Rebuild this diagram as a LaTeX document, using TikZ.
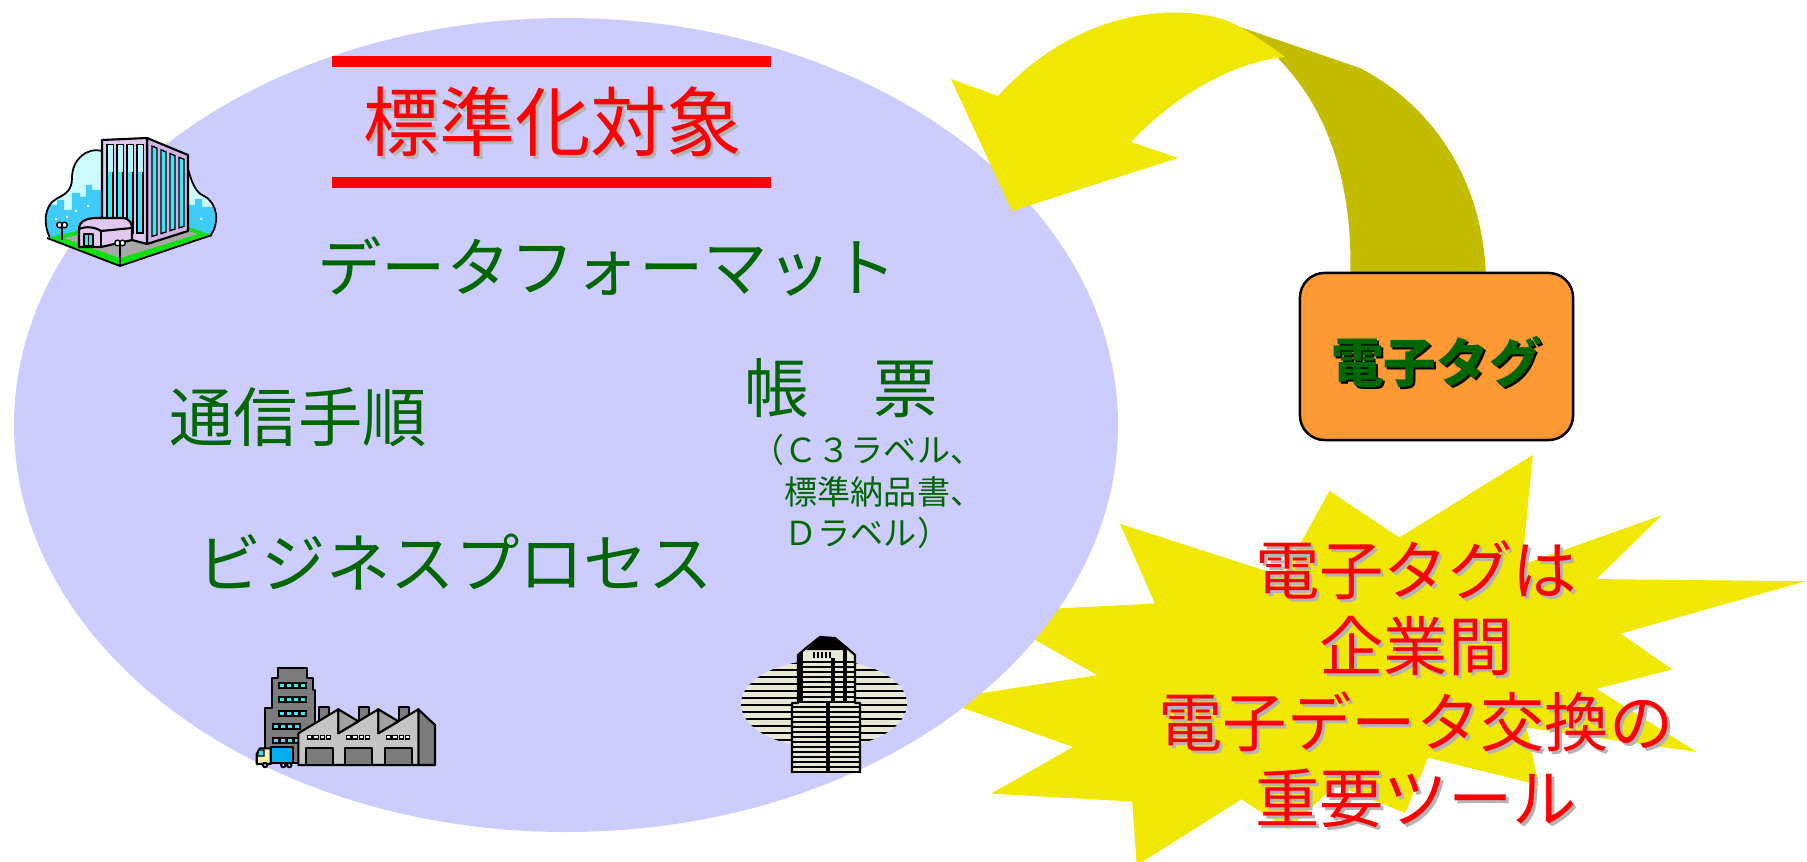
\documentclass[tikz,border=0pt]{standalone}
\usepackage{fontspec}
\setmainfont{Noto Sans CJK JP}
\definecolor{lav}{HTML}{CCCCFF}
\definecolor{burst}{HTML}{F0E800}
\definecolor{olivedark}{HTML}{C4BC00}
\definecolor{tagorange}{HTML}{FF9933}
\definecolor{txtgreen}{HTML}{006600}
\definecolor{shadowgrey}{HTML}{B4B4B4}
\definecolor{cloudcyan}{HTML}{CCFCFF}
\definecolor{skycyan}{HTML}{40CCF8}
\definecolor{wincyan}{HTML}{40E4F4}
\definecolor{winlight}{HTML}{B8F8FF}
\definecolor{towerlav}{HTML}{E0C8F0}
\definecolor{towerlavdark}{HTML}{D0B4E8}
\definecolor{grassgreen}{HTML}{10E010}
\definecolor{pavegrey}{HTML}{A8A8A8}
\definecolor{darkgrey}{HTML}{7C7C7C}
\definecolor{midgrey}{HTML}{A0A0A0}
\definecolor{lightgrey}{HTML}{C4C4C4}
\definecolor{cabyellow}{HTML}{FFF2B0}
\definecolor{cream}{HTML}{E8E6D4}
\tikzset{
  inkline/.style={draw=black, line width=0.6pt, line join=round},
  biglbl/.style={text=txtgreen, inner sep=0pt, font=\fontsize{18.3}{22}\selectfont},
  smalllbl/.style={text=txtgreen, inner sep=0pt, anchor=west, align=left,
    font=\fontsize{9.4}{11.8}\selectfont},
  titlelbl/.style={text=red, inner sep=0pt, font=\fontsize{21.5}{26}\selectfont},
  burstlbl/.style={text=red, inner sep=0pt, align=center, font=\fontsize{18.3}{21.6}\selectfont},
  greyshadow/.style={text=shadowgrey},
  redbar/.style={draw=red, line width=3.13pt},
  tagbox/.style={draw=black, line width=0.7pt, fill=tagorange, rounded corners=7pt,
    minimum width=2.73cm, minimum height=1.67cm, inner sep=0pt},
  taglbl/.style={inner sep=0pt, font=\fontsize{15}{18}\selectfont\bfseries},
}
\begin{document}
\begin{tikzpicture}[x=0.01cm, y=-0.01cm]
\useasboundingbox (0,0) rectangle (1807,861);
\begin{scope}
\clip (0,0) rectangle (1807,861);

% explosion burst behind the ellipse
\begin{scope}[shift={(939.4,455)}, xscale=0.04012, yscale=0.0190]
\fill[burst] (11462,4342) -- (14790,0) -- (14525,5777) -- (18007,3172) -- (16380,6532)
  -- (21600,6645) -- (16985,9402) -- (18270,11290) -- (16380,12310) -- (18877,15632)
  -- (14640,14350) -- (14942,17370) -- (12180,15935) -- (11612,18842) -- (9872,17370)
  -- (8700,19712) -- (7527,18125) -- (4917,21600) -- (4805,18240) -- (1285,17825)
  -- (3330,15370) -- (0,12877) -- (3935,11592) -- (1172,8270) -- (5372,7817)
  -- (4502,3625) -- (8550,6382) -- (9722,1887) -- cycle;
\end{scope}

% the large ellipse
\fill[lav] (566,425) ellipse [x radius=552, y radius=407];

% curved arrow: back side of the band
\fill[olivedark] (1350,285) .. controls (1355,170) and (1320,80) .. (1240,27)
  -- (1360,68) .. controls (1440,110) and (1486,190) .. (1486,285) -- cycle;
% curved arrow: front side of the band and head
\fill[burst] (1240,27) .. controls (1205,5) and (1090,-5) .. (998,96)
  -- (951,79) -- (1012,211) -- (1178,158) -- (1131,142)
  .. controls (1170,100) and (1230,62) .. (1285,57)
  .. controls (1268,44) and (1255,36) .. (1240,27) -- cycle;
\end{scope}

% red bars and title
\draw[redbar] (332,61.5) -- (771,61.5);
\draw[redbar] (332,182.5) -- (771,182.5);
\node[titlelbl, greyshadow] (titlesh) at (556,125) {標準化対象};
\node[titlelbl] (title) at (553,122) {標準化対象};

% green labels inside the ellipse
\node[biglbl] (fmt) at (607,267) {データフォーマット};
\node[biglbl] (proto) at (298,417) {通信手順};
\node[biglbl] (biz) at (455,562) {ビジネスプロセス};
\node[biglbl] (forms) at (841,388) {帳　票};
\node[smalllbl] (formsub) at (751,491.5) {（Ｃ３ラベル、\\　標準納品書、\\　Ｄラベル）};

% tag box
\node[tagbox] (tag) at (1436.5,356.5) {};
\node[taglbl, text=black] (tagsh) at (1438.5,364) {電子タグ};
\node[taglbl, text=txtgreen] (tagtx) at (1436.5,362) {電子タグ};

% text on the burst
\node[burstlbl, greyshadow] (burstsh) at (1419,687) {電子タグは\\企業間\\電子データ交換の\\重要ツール};
\node[burstlbl] (bursttx) at (1416,684) {電子タグは\\企業間\\電子データ交換の\\重要ツール};

% ---- office building with cloud ----
\fill[cloudcyan] (50,238) .. controls (43,224) and (44,206) .. (56,199)
  .. controls (66,194) and (72,190) .. (72,178) .. controls (72,160) and (86,147) .. (102,151)
  -- (186,160) .. controls (190,178) and (194,192) .. (204,196)
  .. controls (218,203) and (220,224) .. (210,236) -- cycle;
\begin{scope}
\clip (50,238) .. controls (43,224) and (44,206) .. (56,199)
  .. controls (66,194) and (72,190) .. (72,178) .. controls (72,160) and (86,147) .. (102,151)
  -- (186,160) .. controls (190,178) and (194,192) .. (204,196)
  .. controls (218,203) and (220,224) .. (210,236) -- cycle;
\fill[skycyan] (40,240) -- (40,205) -- (57,205) -- (57,200) -- (64,200) -- (64,210)
  -- (72,210) -- (72,193) -- (80,193) -- (80,197) -- (86,197) -- (86,185) -- (92,185)
  -- (92,190) -- (102,190) -- (102,240) -- cycle;
\fill[skycyan] (186,240) -- (186,205) -- (195,205) -- (195,199) -- (202,199) -- (202,207)
  -- (220,207) -- (220,240) -- cycle;
\fill[white] (55,218) rectangle (57,220) (66,216) rectangle (68,218) (75,210) rectangle (77,212)
  (87,205) rectangle (89,207) (200,218) rectangle (202,220);
\end{scope}
\draw[black, line width=0.5pt] (50,238) .. controls (43,224) and (44,206) .. (56,199)
  .. controls (66,194) and (72,190) .. (72,178) .. controls (72,160) and (86,147) .. (102,151)
  (186,160) .. controls (190,178) and (194,192) .. (204,196)
  .. controls (218,203) and (220,224) .. (210,236);
% ground
\fill[grassgreen] (47,238) -- (120,266) -- (212,235) -- (150,214) -- cycle;
\fill[pavegrey] (64,238) -- (120,258) -- (198,234) -- (150,219) -- cycle;
\draw[black, line width=0.5pt] (47,238) -- (120,266) -- (212,235);
% tower
\filldraw[fill=towerlavdark, inkline] (147,138) -- (188,155) -- (188,231) -- (147,244) -- cycle;
\filldraw[fill=towerlav, inkline] (102,140) -- (147,138) -- (147,244) -- (102,232) -- cycle;
\foreach \wx in {107,117,127,137} {
  \filldraw[fill=wincyan, draw=black, line width=0.4pt] (\wx,145) rectangle (\wx+6,233);
  \fill[winlight] (\wx+0.5,145.5) rectangle (\wx+5.5,172);
}
\filldraw[fill=wincyan, draw=black, line width=0.4pt] (152,146.1) -- (157,148.1) -- (157,234.8) -- (152,236.4) -- cycle;
\filldraw[fill=wincyan, draw=black, line width=0.4pt] (161,149.8) -- (166,151.9) -- (166,232.0) -- (161,233.6) -- cycle;
\filldraw[fill=wincyan, draw=black, line width=0.4pt] (170,153.5) -- (175,155.6) -- (175,229.1) -- (170,230.7) -- cycle;
\filldraw[fill=wincyan, draw=black, line width=0.4pt] (179,157.3) -- (184,159.3) -- (184,226.3) -- (179,227.9) -- cycle;
% annex
\filldraw[fill=towerlav, inkline] (79,247) -- (79,229) .. controls (79,221) and (87,218) .. (97,218)
  -- (122,218) .. controls (130,218) and (133,224) .. (132,232) -- (132,240) -- (101,247) -- cycle;
\draw[inkline] (79,229) .. controls (86,226) and (95,227) .. (101,231) -- (132,228);
\draw[inkline] (101,231) -- (101,247);
\filldraw[fill=wincyan, inkline] (84,234) rectangle (93,246);
\draw[black, line width=0.4pt] (88.5,234) -- (88.5,246);
% lamps
\draw[black, line width=0.7pt] (62,226) -- (62,240) (120,244) -- (120,265);
\filldraw[fill=white, draw=black, line width=0.4pt] (59.5,225) circle [radius=2.8] (64.5,225) circle [radius=2.8];
\filldraw[fill=white, draw=black, line width=0.4pt] (117.5,243) circle [radius=2.8] (122.5,243) circle [radius=2.8];

% ---- factory ----
\filldraw[fill=darkgrey, inkline] (278,668) -- (307,668) -- (307,678) -- (313,678) -- (313,690)
  -- (315,690) -- (315,763) -- (265,763) -- (265,708) -- (272,708) -- (272,678) -- (278,678) -- cycle;
\foreach \wy in {683,697,711} \foreach \wx in {279,286,293,300}
  \filldraw[fill=wincyan, draw=black, line width=0.3pt] (\wx,\wy) rectangle (\wx+6,\wy+5);
\foreach \wy in {724,738} \foreach \wx in {273,280,287,294}
  \filldraw[fill=wincyan, draw=black, line width=0.3pt] (\wx,\wy) rectangle (\wx+6,\wy+5);
\foreach \cx in {319.3,359.3,399.3}
  \filldraw[fill=darkgrey, inkline] (\cx,707.3) rectangle (\cx+10,726);
\filldraw[fill=darkgrey, inkline] (418.3,709.3) -- (435,725) -- (435,765) -- (418.3,765) -- cycle;
\filldraw[fill=lightgrey, inkline] (298.3,765) -- (298.3,733.3) -- (338.3,709.3) -- (338.3,733.3)
  -- (378.3,709.3) -- (378.3,733.3) -- (418.3,709.3) -- (418.3,765) -- cycle;
\filldraw[fill=midgrey, inkline] (338.3,709.3) -- (358.3,721.3) -- (338.3,733.3) -- cycle;
\filldraw[fill=midgrey, inkline] (378.3,709.3) -- (398.3,721.3) -- (378.3,733.3) -- cycle;
\foreach \dx in {306,345,385}
  \filldraw[fill=darkgrey, inkline] (\dx,747.7) rectangle (\dx+26.7,765);
\foreach \gx in {307.5,346.5,386.5} \foreach \k in {0,1,2,3}
  \filldraw[fill=white, draw=black, line width=0.3pt] (\gx+\k*6.3,735.5) rectangle (\gx+\k*6.3+4.5,739);
% truck
\filldraw[fill=cabyellow, inkline] (270.7,764) -- (256.7,764) -- (256.7,754) -- (260,748.3) -- (270.7,748.3) -- cycle;
\filldraw[fill=wincyan, draw=black, line width=0.4pt] (258.5,750) -- (264,750) -- (264,756) -- (257.5,756) -- cycle;
\filldraw[fill=cyan, inkline] (270.7,746.7) rectangle (293.3,763.3);
\filldraw[fill=white, inkline] (265,765) circle [radius=2.2] (283.3,765) circle [radius=2.2] (289.3,765) circle [radius=2.2];

% ---- skyscraper ----
\begin{scope}
\clip (824,704) ellipse [x radius=83, y radius=44];
\fill[cream] (740,658) rectangle (910,750);
\foreach \yy in {663,670,...,747} \draw[black, line width=0.7pt] (738,\yy) -- (912,\yy);
\end{scope}
\fill[cream] (792,773) -- (792,703) -- (798,703) -- (798,655) -- (806,648) -- (820,637)
  -- (835,638) -- (847,648) -- (855,655) -- (855,703) -- (860,703) -- (860,773) -- cycle;
\begin{scope}
\clip (792,773) -- (792,703) -- (798,703) -- (798,655) -- (855,655) -- (855,703) -- (860,703) -- (860,773) -- cycle;
\foreach \yy in {662,667,...,772} \draw[black, line width=0.45pt] (790,\yy) -- (862,\yy);
\end{scope}
\fill[black] (806,650) -- (820,637) -- (835,638) -- (848,650) -- cycle;
\fill[cream] (811,652) rectangle (833,658);
\foreach \vx in {814,818,822,826,830} \draw[black, line width=0.5pt] (\vx,652) -- (\vx,658);
\draw[black, line width=1.4pt] (801,652) -- (801,703) (833,658) -- (833,703) (845,650) -- (845,703);
\draw[black, line width=0.9pt] (828,703) -- (828,773);
\draw[inkline] (792,773) -- (792,703) -- (798,703) -- (798,655) -- (806,648) -- (820,637)
  -- (835,638) -- (847,648) -- (855,655) -- (855,703) -- (860,703) -- (860,773);
\end{tikzpicture}
\end{document}
